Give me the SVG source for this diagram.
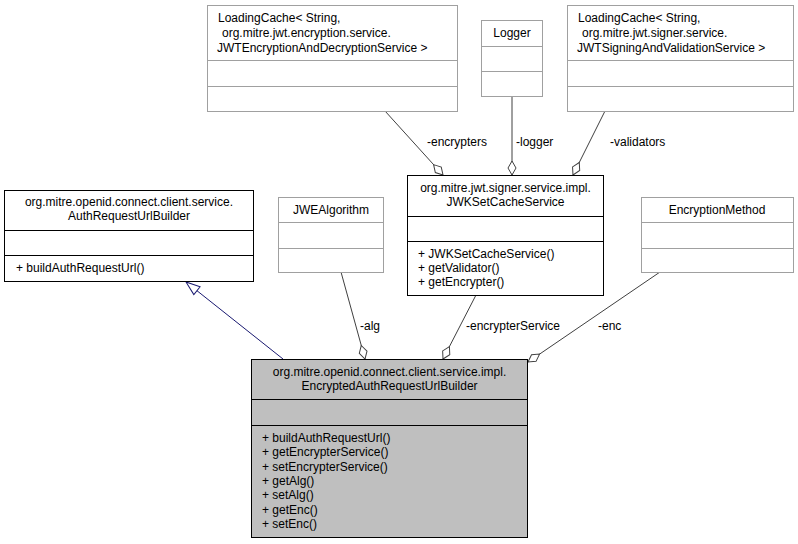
<svg xmlns="http://www.w3.org/2000/svg" width="798" height="544" viewBox="0 0 798 544">
<style>
text{font-family:"Liberation Sans",Arial,sans-serif;font-size:12px;fill:#000}
.g rect,.g line{stroke:#a0a0a0;fill:#fff}
.b rect,.b line{stroke:#000;fill:#fff}
.m rect{fill:#bfbfbf}
.c{stroke:#404040;fill:none}
.c text{stroke:none}
</style>
<defs>
<marker id="dia" viewBox="0 0 16 10" refX="15" refY="5" markerWidth="16" markerHeight="10" markerUnits="userSpaceOnUse" orient="auto">
<path d="M1,5 L8,1 L15,5 L8,9 Z" fill="#fff" stroke="#404040"/>
</marker>
<marker id="tri" viewBox="0 0 16 12" refX="15" refY="6" markerWidth="16" markerHeight="12" markerUnits="userSpaceOnUse" orient="auto">
<path d="M1,1 L15,6 L1,11 Z" fill="#fff" stroke="#191970"/>
</marker>
</defs>
<g id="connectors" class="c">
<line x1="283" y1="359" x2="186" y2="282" stroke="#191970" marker-end="url(#tri)"/>
<line x1="341" y1="272" x2="365" y2="359" marker-end="url(#dia)"/>
<line x1="476" y1="295" x2="443" y2="359" marker-end="url(#dia)"/>
<line x1="660" y1="272" x2="528" y2="362" marker-end="url(#dia)"/>
<line x1="385" y1="111" x2="443" y2="175" marker-end="url(#dia)"/>
<line x1="512" y1="96" x2="512" y2="175" marker-end="url(#dia)"/>
<line x1="605" y1="111" x2="573" y2="175" marker-end="url(#dia)"/>
<text x="360" y="330">-alg</text>
<text x="466" y="330">-encrypterService</text>
<text x="598" y="330">-enc</text>
<text x="427" y="146">-encrypters</text>
<text x="516" y="146">-logger</text>
<text x="610" y="146">-validators</text>
</g>
<g id="lc1" class="g">
<rect x="207.5" y="5.5" width="250" height="106"/>
<line x1="207.5" y1="60.5" x2="457.5" y2="60.5"/><line x1="207.5" y1="86.5" x2="457.5" y2="86.5"/>
<text x="218" y="22">LoadingCache&lt; String,</text>
<text x="222" y="37"> org.mitre.jwt.encryption.service.</text>
<text x="217" y="52">JWTEncryptionAndDecryptionService &gt;</text>
</g>
<g id="logger" class="g">
<rect x="481.5" y="20.5" width="61" height="76"/>
<line x1="481.5" y1="46.5" x2="542.5" y2="46.5"/><line x1="481.5" y1="71.5" x2="542.5" y2="71.5"/>
<text x="512" y="37" text-anchor="middle">Logger</text>
</g>
<g id="lc2" class="g">
<rect x="567.5" y="5.5" width="226" height="106"/>
<line x1="567.5" y1="60.5" x2="793.5" y2="60.5"/><line x1="567.5" y1="86.5" x2="793.5" y2="86.5"/>
<text x="578" y="22">LoadingCache&lt; String,</text>
<text x="582" y="37"> org.mitre.jwt.signer.service.</text>
<text x="577" y="52">JWTSigningAndValidationService &gt;</text>
</g>
<g id="jwk" class="b">
<rect x="407.5" y="175.5" width="196" height="120"/>
<line x1="407.5" y1="216.5" x2="603.5" y2="216.5"/><line x1="407.5" y1="241.5" x2="603.5" y2="241.5"/>
<text x="505.5" y="192" text-anchor="middle">org.mitre.jwt.signer.service.impl.</text>
<text x="505.5" y="206" text-anchor="middle">JWKSetCacheService</text>
<text x="418" y="258">+ JWKSetCacheService()</text>
<text x="418" y="272">+ getValidator()</text>
<text x="418" y="286">+ getEncrypter()</text>
</g>
<g id="auth" class="b">
<rect x="4.5" y="190.5" width="249" height="91"/>
<line x1="4.5" y1="230.5" x2="253.5" y2="230.5"/><line x1="4.5" y1="255.5" x2="253.5" y2="255.5"/>
<text x="129" y="206" text-anchor="middle">org.mitre.openid.connect.client.service.</text>
<text x="129" y="220" text-anchor="middle">AuthRequestUrlBuilder</text>
<text x="16" y="272">+ buildAuthRequestUrl()</text>
</g>
<g id="jwe" class="g">
<rect x="278.5" y="197.5" width="105" height="75"/>
<line x1="278.5" y1="222.5" x2="383.5" y2="222.5"/><line x1="278.5" y1="248.5" x2="383.5" y2="248.5"/>
<text x="331" y="214" text-anchor="middle">JWEAlgorithm</text>
</g>
<g id="encm" class="g">
<rect x="641.5" y="197.5" width="152" height="75"/>
<line x1="641.5" y1="222.5" x2="793.5" y2="222.5"/><line x1="641.5" y1="248.5" x2="793.5" y2="248.5"/>
<text x="717" y="214" text-anchor="middle">EncryptionMethod</text>
</g>
<g id="main" class="b m">
<rect x="251.5" y="359.5" width="276" height="178"/>
<line x1="251.5" y1="399.5" x2="527.5" y2="399.5"/><line x1="251.5" y1="425.5" x2="527.5" y2="425.5"/>
<text x="389.5" y="376" text-anchor="middle">org.mitre.openid.connect.client.service.impl.</text>
<text x="389.5" y="390" text-anchor="middle">EncryptedAuthRequestUrlBuilder</text>
<text x="262" y="442">+ buildAuthRequestUrl()</text>
<text x="262" y="456">+ getEncrypterService()</text>
<text x="262" y="471">+ setEncrypterService()</text>
<text x="262" y="485">+ getAlg()</text>
<text x="262" y="499">+ setAlg()</text>
<text x="262" y="514">+ getEnc()</text>
<text x="262" y="528">+ setEnc()</text>
</g>
</svg>
